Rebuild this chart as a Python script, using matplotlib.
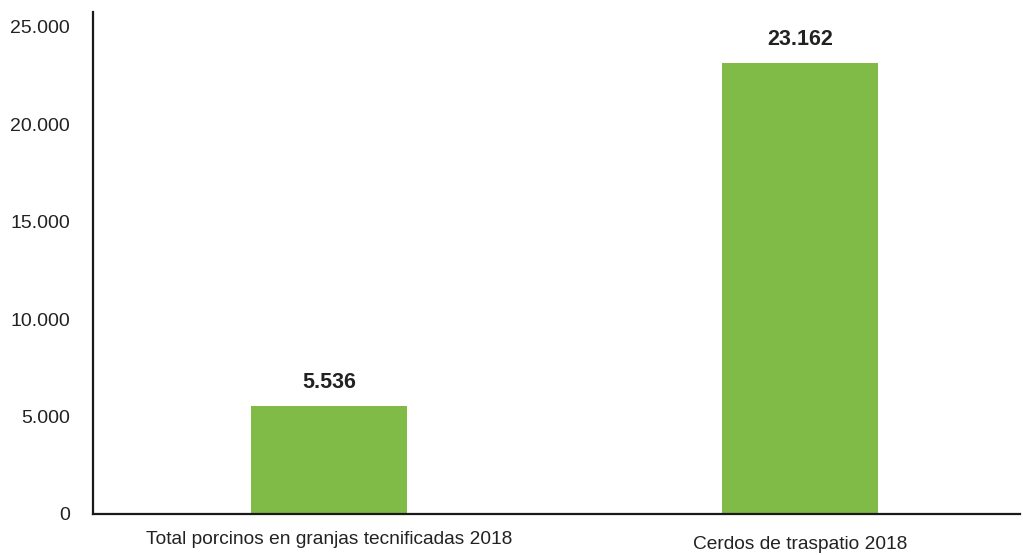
import matplotlib.pyplot as plt
from matplotlib.ticker import FuncFormatter

plt.rcParams['font.family'] = ['Liberation Sans Narrow', 'Liberation Sans', 'DejaVu Sans']

# datos
categorias = ['Total porcinos en granjas tecnificadas 2018', 'Cerdos de traspatio 2018']
valores = [5536, 23162]
etiquetas = ['5.536', '23.162']
yticks = [0, 5000, 10000, 15000, 20000, 25000]

fig = plt.figure(figsize=(10.23, 5.55), dpi=100)
ax = fig.add_axes([93 / 1023, 1 - 514 / 555, (1020 - 93) / 1023, (514 - 12) / 555])

x = list(range(len(categorias)))
ax.bar(x, valores, width=0.332, color='#80BA47')

for xi, v, lab in zip(x, valores, etiquetas):
    ax.annotate(lab, (xi, v), xytext=(0, 17), textcoords='offset points',
                ha='center', va='center', fontsize=15.5, fontweight='bold', color='#222222')

ax.set_xlim(-0.501, 1.467)
ax.set_ylim(0, 25770)
ax.set_yticks(yticks)
ax.yaxis.set_major_formatter(FuncFormatter(lambda v, p: f'{int(v):,}'.replace(',', '.')))
ax.set_xticks(x)
ax.set_xticklabels(categorias)
ax.tick_params(axis='both', length=0, colors='#222222')
ax.tick_params(axis='y', pad=16.5, labelsize=14)
ax.tick_params(axis='x', labelsize=13.8)
ax.xaxis.get_major_ticks()[0].set_pad(12)
ax.xaxis.get_major_ticks()[1].set_pad(16)

for s in ['top', 'right']:
    ax.spines[s].set_visible(False)
for s in ['left', 'bottom']:
    ax.spines[s].set_linewidth(1.6)
    ax.spines[s].set_color('#1a1a1a')

fig.savefig('out.png', dpi=100)
